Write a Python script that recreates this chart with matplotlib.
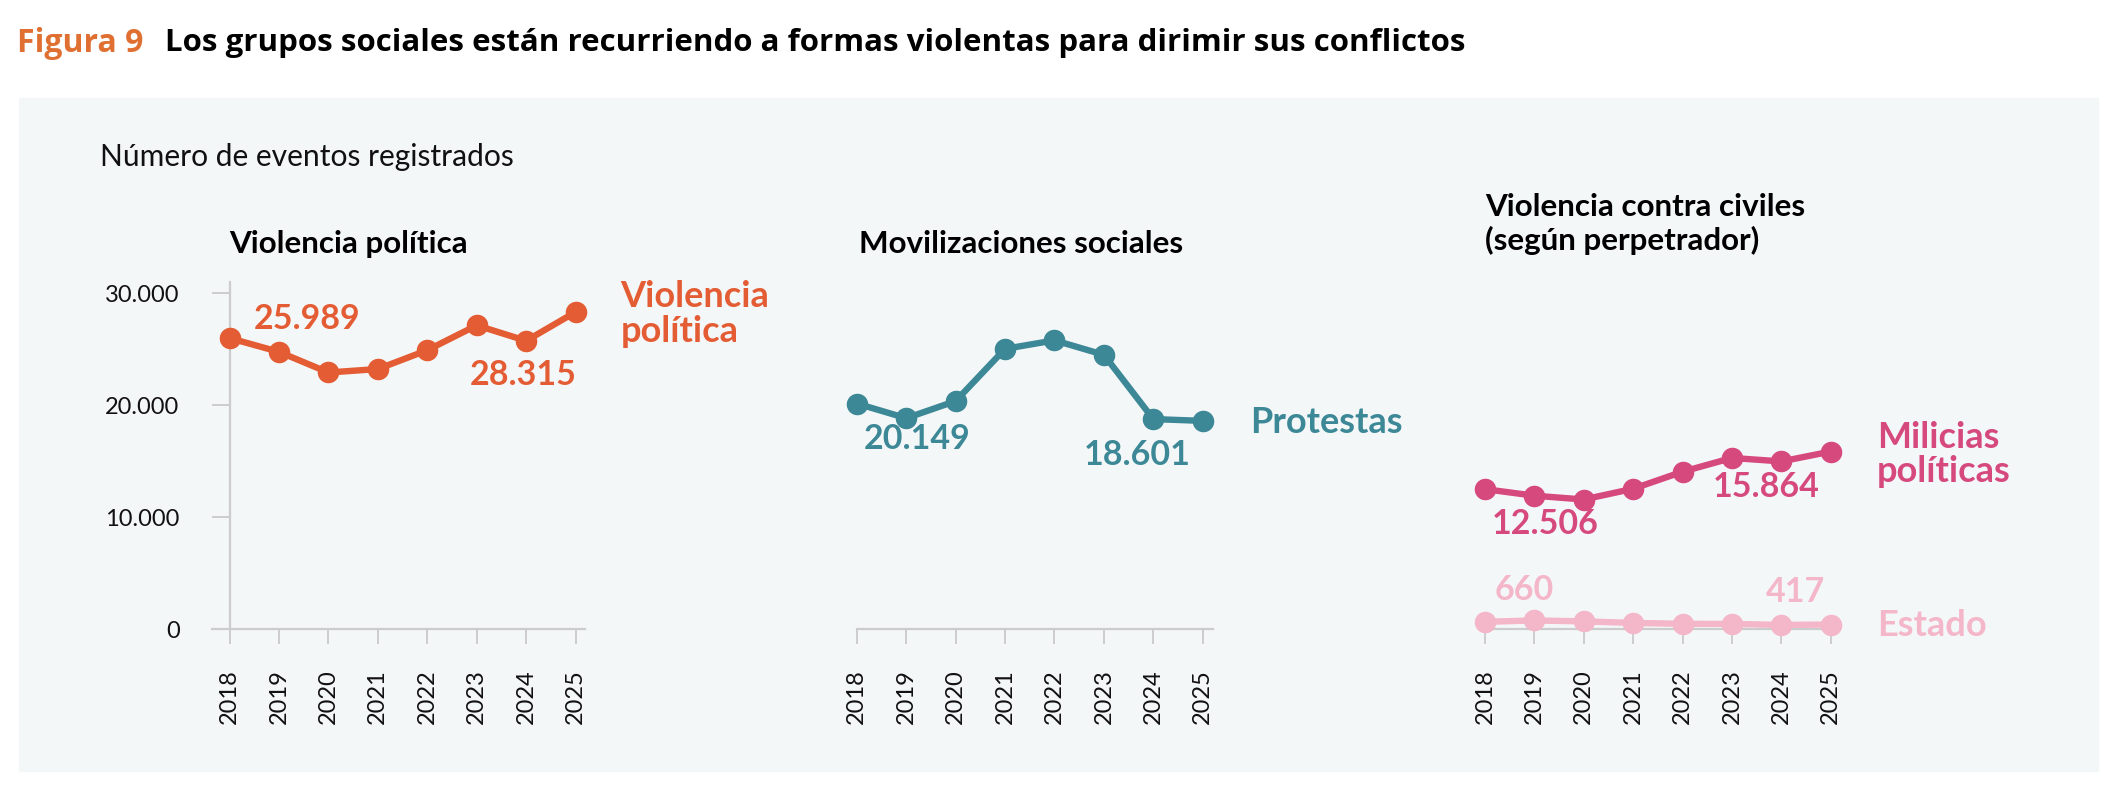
import matplotlib
matplotlib.use("Agg")
import matplotlib.pyplot as plt
from matplotlib.patches import Rectangle

plt.rcParams['font.family'] = ['Lato', 'DejaVu Sans']

years = [2018, 2019, 2020, 2021, 2022, 2023, 2024, 2025]
violencia_politica = [25989, 24760, 22920, 23230, 24910, 27130, 25750, 28315]
protestas = [20149, 18840, 20370, 25030, 25790, 24500, 18760, 18601]
milicias = [12506, 11920, 11580, 12540, 14065, 15290, 14980, 15864]
estado = [660, 780, 700, 560, 480, 470, 380, 417]
y_ticks = [0, 10000, 20000, 30000]
y_tick_labels = ["0", "10.000", "20.000", "30.000"]

ORANGE = "#E45C33"
TEAL = "#3D8897"
MAGENTA = "#D6497D"
PINK = "#F4B6C9"
GREY = "#CCCCCC"
TXT = "#111111"

W, H = 2111, 791
fig = plt.figure(figsize=(W / 100, H / 100), dpi=100)
fig.patch.set_facecolor("white")


def fx(px):
    return px / W


def fy(py):
    return 1 - py / H


# background panel
fig.patches.append(Rectangle((fx(19), fy(771)), fx(2098) - fx(19), fy(98) - fy(771),
                             transform=fig.transFigure, color="#F4F7F8", zorder=-10))

fig.text(fx(17), fy(43), "Figura 9", color="#E07032", fontsize=23, fontweight="bold", va="center",
         family=["Open Sans", "DejaVu Sans"])
fig.text(fx(165), fy(43), "Los grupos sociales están recurriendo a formas violentas para dirimir sus conflictos",
         color="black", fontsize=22.5, fontweight="bold", va="center", family=["Open Sans", "DejaVu Sans"])
fig.text(fx(100), fy(157), "Número de eventos registrados", color=TXT, fontsize=21.6, va="center")

px_year = 49.42
y0_px, ymax = 629.2, 31000
top_px = y0_px - ymax * 336.0 / 30000


def make_ax(x2018, xmin, xmax):
    left = x2018 - (2018 - xmin) * px_year
    width = (xmax - xmin) * px_year
    ax = fig.add_axes([fx(left), fy(y0_px), width / W, (y0_px - top_px) / H])
    ax.set_xlim(xmin, xmax)
    ax.set_ylim(0, ymax)
    ax.patch.set_alpha(0)
    for s in ["top", "right"]:
        ax.spines[s].set_visible(False)
    ax.spines["bottom"].set_color(GREY)
    ax.spines["bottom"].set_linewidth(1.6)
    ax.set_xticks(years)
    ax.set_xticklabels([str(y) for y in years], rotation=90, fontsize=17, color=TXT)
    ax.tick_params(axis="x", length=11, width=1.4, color=GREY, pad=18)
    return ax


def plot_series(ax, vals, color):
    ax.plot(years, vals, color=color, lw=4.6, marker="o", ms=14.5, clip_on=False, zorder=3,
            solid_capstyle="round")


def label(ax, text, xy, dx, dy, color, ha, size=24.5):
    ax.annotate(text, xy=xy, xytext=(dx, dy), textcoords="offset pixels", ha=ha, va="center",
                color=color, fontsize=size, fontweight="bold", annotation_clip=False,
                linespacing=1.05)


# panel 1
ax1 = make_ax(229.6, 2017.64, 2025.2)
ax1.spines["left"].set_position(("data", 2018))
ax1.spines["left"].set_color(GREY)
ax1.spines["left"].set_linewidth(1.6)
ax1.set_yticks(y_ticks)
ax1.set_yticklabels(y_tick_labels, fontsize=17, color=TXT)
ax1.tick_params(axis="y", length=13, width=1.4, color=GREY, pad=23)
plot_series(ax1, violencia_politica, ORANGE)
label(ax1, "25.989", (years[0], violencia_politica[0]), 24, 19, ORANGE, "left")
label(ax1, "28.315", (years[-1], violencia_politica[-1]), 1, -63, ORANGE, "right")
label(ax1, "Violencia\npolítica", (years[-1], violencia_politica[-1]), 45, -2, ORANGE, "left", 26)
fig.text(fx(229.6), fy(244), "Violencia política", fontsize=22.6, fontweight="bold", va="center")

# panel 2
ax2 = make_ax(856.8, 2018, 2025.2)
ax2.spines["left"].set_visible(False)
ax2.set_yticks([])
plot_series(ax2, protestas, TEAL)
label(ax2, "20.149", (years[0], protestas[0]), 7, -35, TEAL, "left")
label(ax2, "18.601", (years[-1], protestas[-1]), -12, -34, TEAL, "right")
label(ax2, "Protestas", (years[-1], protestas[-1]), 47, -2, TEAL, "left", 26)
fig.text(fx(858.9), fy(244), "Movilizaciones sociales", fontsize=22.6, fontweight="bold", va="center")

# panel 3
ax3 = make_ax(1484.9, 2018, 2025.15)
ax3.spines["left"].set_visible(False)
ax3.set_yticks([])
plot_series(ax3, estado, PINK)
plot_series(ax3, milicias, MAGENTA)
label(ax3, "12.506", (years[0], milicias[0]), 7, -35, MAGENTA, "left")
label(ax3, "15.864", (years[-1], milicias[-1]), -11, -35, MAGENTA, "right")
label(ax3, "Milicias\npolíticas", (years[-1], milicias[-1]), 46, -3, MAGENTA, "left", 26)
label(ax3, "660", (years[0], estado[0]), 10, 32, PINK, "left")
label(ax3, "417", (years[-1], estado[-1]), -6, 33, PINK, "right")
label(ax3, "Estado", (years[-1], estado[-1]), 46, -1, PINK, "left", 26)
fig.text(fx(1485), fy(224), "Violencia contra civiles\n(según perpetrador)", fontsize=22.6,
         fontweight="bold", va="center", linespacing=1.22)

fig.savefig("out.png", dpi=100)
